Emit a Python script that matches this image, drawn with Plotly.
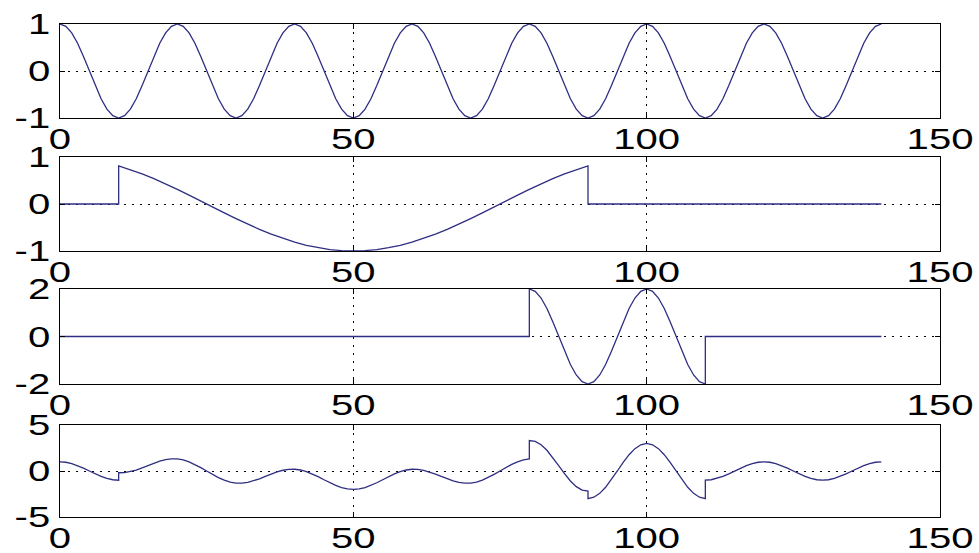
import plotly.graph_objects as go

# ---- data ----
x1 = list(range(0, 141))
y1 = [1, 0.95, 0.81, 0.59, 0.31, 0, -0.31, -0.59, -0.81, -0.95, -1, -0.95, -0.81, -0.59, -0.31, 0, 0.31, 0.59, 0.81, 0.95,
      1, 0.95, 0.81, 0.59, 0.31, 0, -0.31, -0.59, -0.81, -0.95, -1, -0.95, -0.81, -0.59, -0.31, 0, 0.31, 0.59, 0.81, 0.95,
      1, 0.95, 0.81, 0.59, 0.31, 0, -0.31, -0.59, -0.81, -0.95, -1, -0.95, -0.81, -0.59, -0.31, 0, 0.31, 0.59, 0.81, 0.95,
      1, 0.95, 0.81, 0.59, 0.31, 0, -0.31, -0.59, -0.81, -0.95, -1, -0.95, -0.81, -0.59, -0.31, 0, 0.31, 0.59, 0.81, 0.95,
      1, 0.95, 0.81, 0.59, 0.31, 0, -0.31, -0.59, -0.81, -0.95, -1, -0.95, -0.81, -0.59, -0.31, 0, 0.31, 0.59, 0.81, 0.95,
      1, 0.95, 0.81, 0.59, 0.31, 0, -0.31, -0.59, -0.81, -0.95, -1, -0.95, -0.81, -0.59, -0.31, 0, 0.31, 0.59, 0.81, 0.95,
      1, 0.95, 0.81, 0.59, 0.31, 0, -0.31, -0.59, -0.81, -0.95, -1, -0.95, -0.81, -0.59, -0.31, 0, 0.31, 0.59, 0.81, 0.95,
      1]

x2 = [0, 10, 10, 12, 14, 16, 18, 20, 22, 24, 26, 28, 30, 32, 34, 36, 38, 40, 42, 44, 46, 48, 50,
      52, 54, 56, 58, 60, 62, 64, 66, 68, 70, 72, 74, 76, 78, 80, 82, 84, 86, 88, 90, 90, 140]
y2 = [0, 0, 0.81, 0.73, 0.64, 0.54, 0.43, 0.31, 0.19, 0.06, -0.06, -0.19, -0.31, -0.43, -0.54, -0.64, -0.73,
      -0.81, -0.88, -0.93, -0.97, -0.99, -1, -0.99, -0.97, -0.93, -0.88, -0.81, -0.73, -0.64, -0.54, -0.43,
      -0.31, -0.19, -0.06, 0.06, 0.19, 0.31, 0.43, 0.54, 0.64, 0.73, 0.81, 0, 0]

x3 = [0, 80, 80, 81, 82, 83, 84, 85, 86, 87, 88, 89, 90, 91, 92, 93, 94, 95, 96, 97, 98, 99, 100,
      101, 102, 103, 104, 105, 106, 107, 108, 109, 110, 110, 140]
y3 = [0, 0, 2, 1.90, 1.62, 1.18, 0.62, 0, -0.62, -1.18, -1.62, -1.90, -2, -1.90, -1.62, -1.18, -0.62, 0,
      0.62, 1.18, 1.62, 1.90, 2, 1.90, 1.62, 1.18, 0.62, 0, -0.62, -1.18, -1.62, -1.90, -2, 0, 0]

x4 = [0, 1, 2, 3, 4, 5, 6, 7, 8, 9, 10, 10, 11, 12, 13, 14, 15, 16, 17, 18, 19, 20,
      21, 22, 23, 24, 25, 26, 27, 28, 29, 30, 31, 32, 33, 34, 35, 36, 37, 38, 39, 40,
      41, 42, 43, 44, 45, 46, 47, 48, 49, 50, 51, 52, 53, 54, 55, 56, 57, 58, 59, 60,
      61, 62, 63, 64, 65, 66, 67, 68, 69, 70, 71, 72, 73, 74, 75, 76, 77, 78, 79, 80, 80,
      81, 82, 83, 84, 85, 86, 87, 88, 89, 90, 90, 91, 92, 93, 94, 95, 96, 97, 98, 99, 100,
      101, 102, 103, 104, 105, 106, 107, 108, 109, 110, 110, 111, 112, 113, 114, 115, 116, 117, 118, 119, 120,
      121, 122, 123, 124, 125, 126, 127, 128, 129, 130, 131, 132, 133, 134, 135, 136, 137, 138, 139, 140]
y4 = [1, 0.95, 0.81, 0.59, 0.31, 0, -0.31, -0.59, -0.81, -0.95, -1, -0.19, -0.18, -0.08, 0.10, 0.33, 0.59, 0.85, 1.07, 1.24, 1.32, 1.31,
      1.20, 1.00, 0.72, 0.37, 0, -0.37, -0.72, -1.00, -1.20, -1.31, -1.32, -1.24, -1.07, -0.85, -0.59, -0.33, -0.10, 0.08, 0.18, 0.19,
      0.11, -0.07, -0.32, -0.62, -0.95, -1.28, -1.57, -1.80, -1.95, -2, -1.95, -1.80, -1.57, -1.28, -0.95, -0.62, -0.32, -0.07, 0.11, 0.19,
      0.18, 0.08, -0.10, -0.33, -0.59, -0.85, -1.07, -1.24, -1.32, -1.31, -1.20, -1.00, -0.72, -0.37, 0, 0.37, 0.72, 1.00, 1.20, 1.31, 3.31,
      3.22, 2.86, 2.25, 1.47, 0.59, -0.29, -1.08, -1.70, -2.08, -2.19, -3, -2.85, -2.43, -1.77, -0.93, 0, 0.93, 1.77, 2.43, 2.85, 3,
      2.85, 2.43, 1.77, 0.93, 0, -0.93, -1.77, -2.43, -2.85, -3, -1, -0.95, -0.81, -0.59, -0.31, 0, 0.31, 0.59, 0.81, 0.95, 1,
      0.95, 0.81, 0.59, 0.31, 0, -0.31, -0.59, -0.81, -0.95, -1, -0.95, -0.81, -0.59, -0.31, 0, 0.31, 0.59, 0.81, 0.95, 1]

x_ticks = [0, 50, 100, 150]
y_ticks = [[-1, 0, 1], [-1, 0, 1], [-2, 0, 2], [-5, 0, 5]]
y_ranges = [[-1, 1], [-1, 1], [-2, 2], [-5, 5]]

series = [(x1, y1), (x2, y2), (x3, y3), (x4, y4)]

# ---- styling ----
LINE_COLOR = "#2e2e82"
FONT = dict(family="Liberation Sans, Arial, sans-serif", size=29, color="black")
W, H = 979, 553
ML, MR, MT, MB = 60, 39, 24, 36
plot_h = H - MT - MB
# pixel rows (top, bottom) of each panel
panel_px = [(24, 118), (157, 251), (289, 384), (425, 517)]

fig = go.Figure()
layout = dict(
    width=W, height=H,
    margin=dict(l=ML, r=MR, t=MT, b=MB, autoexpand=False),
    paper_bgcolor="white", plot_bgcolor="white",
    showlegend=False,
    font=FONT,
)

for i, ((xs, ys), (ptop, pbot)) in enumerate(zip(series, panel_px)):
    n = i + 1
    xa = "x" if n == 1 else f"x{n}"
    ya = "y" if n == 1 else f"y{n}"
    fig.add_trace(go.Scatter(x=xs, y=ys, mode="lines", xaxis=xa, yaxis=ya,
                             line=dict(color=LINE_COLOR, width=1.3), hoverinfo="skip"))
    d0 = (H - MB - pbot) / plot_h
    d1 = (H - MB - ptop) / plot_h
    common = dict(showline=True, linecolor="black", linewidth=1, mirror="ticks",
                  ticks="inside", ticklen=5, tickcolor="black", tickwidth=1,
                  showgrid=True, gridcolor="black", gridwidth=1, griddash="2px,6px",
                  zeroline=False, tickfont=FONT, automargin=False)
    layout["xaxis" if n == 1 else f"xaxis{n}"] = dict(
        common, domain=[0, 1], range=[0, 150], tickvals=x_ticks,
        ticktext=[str(v) for v in x_ticks], anchor=ya, ticklabelstandoff=-5)
    layout["yaxis" if n == 1 else f"yaxis{n}"] = dict(
        common, domain=[max(d0, 0), min(d1, 1)], range=y_ranges[i], tickvals=y_ticks[i],
        ticktext=[str(v) for v in y_ticks[i]], anchor=xa, ticklabelstandoff=3)

fig.update_layout(**layout)

# remove the page margin and widen the tick-label glyphs horizontally,
# like the horizontally stretched original image
post = """
(function(){
  document.body.style.margin = '0';
  document.body.style.padding = '0';
  function stretch(){
    document.querySelectorAll('.xaxislayer-above text, .yaxislayer-above text').forEach(function(t){
      if (t.getAttribute('data-stretched')) return;
      var w = t.getComputedTextLength();
      t.setAttribute('textLength', (w * 1.38).toFixed(1));
      t.setAttribute('lengthAdjust', 'spacingAndGlyphs');
      t.setAttribute('data-stretched', '1');
    });
  }
  stretch();
  setTimeout(stretch, 50);
})();
"""
fig.write_html("out.html", post_script=post, config={"displayModeBar": False, "staticPlot": True})
